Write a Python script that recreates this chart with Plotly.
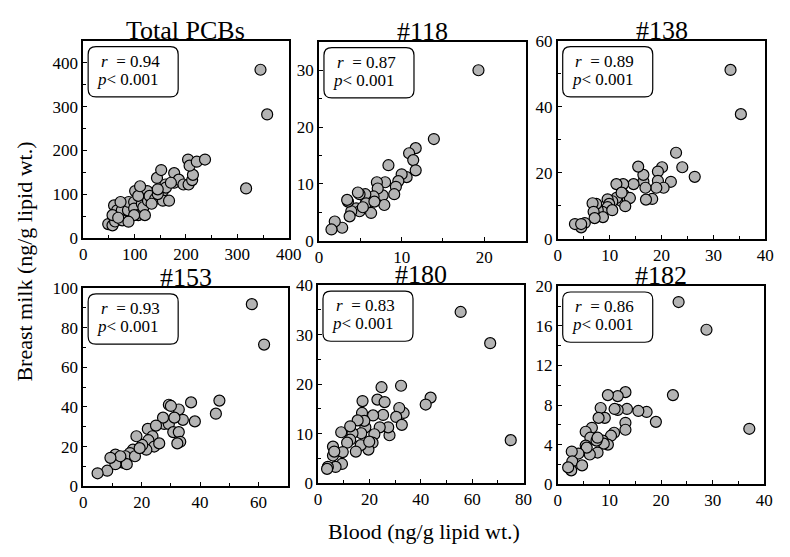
import plotly.graph_objects as go

# ---------------- data ----------------
titles = ["Total PCBs", "#118", "#138", "#153", "#180", "#182"]
r_vals = ["0.94", "0.87", "0.89", "0.93", "0.83", "0.86"]
p_text = "0.001"

tot_x = [48.6, 56.9, 62, 60, 66, 76, 75, 87, 88.5, 99, 99, 101, 107, 114, 117, 124.5, 126, 129, 140,
         143.5, 151.7, 160, 155, 155, 167, 145, 161, 177, 177, 186, 195, 205, 212, 213.5, 204, 207, 221,
         237, 76, 72.6, 107, 133, 120, 99, 88, 110.6, 57, 68, 145, 170.6, 345, 358, 317]
tot_y = [31.6, 28.7, 37.5, 74.3, 63, 52, 63, 63, 82, 82, 67, 107, 52, 78, 70, 107, 85, 96, 89,
         137, 155, 122, 107, 85, 85, 100, 115, 148, 126, 133, 122, 122, 132, 144, 179, 165, 174,
         179, 40, 82, 96, 78, 52, 52, 37, 118, 52, 46, 111, 126, 384, 282, 113]

c118_x = [19.3, 13.9, 11.7, 10.9, 11.4, 11.7, 10.6, 10.0, 9.6, 9.3, 9.1, 8.4, 8.0, 7.7, 7.9, 7.0, 7.1,
          6.6, 5.7, 5.6, 4.9, 5.7, 6.3, 4.5, 4.9, 3.9, 3.5, 3.4, 3.7, 5.3, 6.7, 2.8, 1.9, 1.5, 4.7]
c118_y = [30.0, 17.9, 16.3, 15.4, 14.2, 12.4, 11.2, 11.7, 10.5, 9.5, 8.2, 13.3, 10.3, 8.0, 6.3, 10.3, 9.2,
          7.8, 6.9, 8.2, 8.2, 6.6, 4.9, 5.7, 5.2, 5.2, 6.9, 7.2, 4.3, 5.9, 6.9, 2.3, 3.4, 2.0, 8.5]

c138_x = [33.3, 35.3, 22.8, 24.0, 26.4, 21.8, 20.1, 19.3, 19.3, 20.4, 19.0, 18.2, 17.0, 16.5, 16.9, 16.5,
          15.5, 14.6, 12.6, 11.3, 12.7, 13.0, 12.3, 13.5, 13.9, 13.0, 11.3, 10.5, 9.6, 9.9, 9.6, 8.6, 7.7,
          8.7, 7.4, 6.7, 6.9, 7.1, 5.2, 4.5, 3.3, 4.5, 10.5, 12.3]
c138_y = [51.2, 37.8, 26.1, 21.7, 18.8, 17.3, 21.7, 20.4, 17.6, 15.5, 15.5, 12.1, 11.9, 17.4, 15.5, 19.4,
          21.9, 16.6, 16.6, 16.6, 13.4, 11.4, 11.4, 12.0, 12.4, 9.9, 12.4, 11.4, 12.0, 10.6, 9.6, 8.2, 8.7,
          6.6, 10.6, 10.8, 8.2, 6.3, 4.8, 3.5, 4.5, 4.5, 8.7, 14.0]

c153_x = [57.7, 61.9, 46.6, 45.4, 36.9, 38.2, 34.1, 32.7, 29.3, 30.0, 27.7, 29.3, 30.8, 32.7, 33.2, 32.2,
          22.1, 23.7, 22.3, 24.3, 21.6, 20.2, 18.2, 17.0, 16.0, 14.4, 11.0, 11.6, 13.6, 14.9, 11.0, 8.2,
          4.9, 17.7, 19.3, 27.3, 31.2, 24.9, 26.0, 12.7, 9.3]
c153_y = [91.9, 71.5, 43.2, 36.6, 42.3, 32.7, 33.5, 38.7, 41.1, 40.5, 31.4, 31.4, 27.3, 27.3, 22.4, 21.6,
          28.9, 25.2, 23.2, 20.0, 18.4, 20.8, 25.2, 18.4, 16.7, 15.1, 15.9, 13.5, 11.9, 11.1, 11.1, 7.8,
          6.5, 15.1, 19.2, 34.6, 34.6, 30.6, 21.6, 15.1, 14.3]

c180_x = [55.5, 67.0, 75.0, 43.8, 41.9, 32.3, 33.3, 31.6, 30.4, 32.6, 27.8, 27.3, 24.7, 23.1, 25.9, 25.3,
          24.0, 21.4, 21.9, 21.2, 19.6, 17.3, 17.1, 18.4, 18.0, 15.4, 16.8, 16.6, 14.7, 13.4, 12.5, 11.3,
          9.0, 9.6, 9.3, 6.8, 5.8, 5.8, 6.3, 3.8, 3.5, 12.5, 19.9]
c180_y = [34.6, 28.3, 8.7, 17.3, 15.9, 19.7, 14.2, 15.2, 13.4, 11.8, 9.7, 11.3, 19.4, 16.9, 16.4, 13.8,
          11.3, 13.7, 9.9, 8.2, 6.8, 16.6, 14.2, 11.3, 12.6, 12.7, 10.1, 7.7, 6.4, 10.1, 8.8, 8.2,
          10.3, 6.3, 3.9, 3.3, 7.4, 5.6, 6.4, 3.3, 2.9, 11.5, 8.4]

c182_x = [23.4, 28.8, 37.1, 22.3, 19.0, 17.2, 15.6, 13.4, 13.1, 11.6, 9.7, 11.6, 11.0, 13.1, 13.1, 10.9,
          10.3, 8.7, 9.7, 8.9, 7.7, 8.3, 9.1, 7.9, 6.6, 5.4, 6.3, 7.5, 5.4, 6.2, 5.6, 4.0, 2.7, 2.8,
          4.7, 2.6, 2.0, 7.7]
c182_y = [18.4, 15.6, 5.6, 9.0, 6.3, 7.3, 7.4, 7.6, 9.3, 8.9, 9.0, 7.5, 7.6, 6.2, 5.5, 5.2,
          4.9, 4.4, 4.0, 4.1, 3.2, 7.7, 6.7, 6.7, 5.7, 5.3, 4.7, 4.4, 3.9, 3.0, 3.7, 3.1, 3.3, 2.3,
          1.9, 1.4, 1.7, 4.7]

xs = [tot_x, c118_x, c138_x, c153_x, c180_x, c182_x]
ys = [tot_y, c118_y, c138_y, c153_y, c180_y, c182_y]

x_ranges = [[0, 400], [0, 25], [0, 40], [0, 70], [0, 80], [0, 40]]
y_ranges = [[0, 450], [0, 35], [0, 60], [0, 100], [0, 40], [0, 20]]
x_dtick = [100, 10, 10, 20, 20, 10]
y_dtick = [100, 10, 20, 20, 10, 4]

# ---------------- layout in pixels ----------------
W, H = 790, 557
# (left, right, top, bottom) pixels of each plot area
boxes_px = [(81, 291, 33, 237), (322, 533, 34, 240), (566, 778, 33, 238),
            (81, 290, 289, 494), (321, 531, 286, 491), (566, 777, 287, 492)]

SERIF = "Liberation Serif"

fig = go.Figure()
layout = dict(width=W, height=H, margin=dict(l=0, r=0, t=0, b=0),
              paper_bgcolor="white", plot_bgcolor="white", showlegend=False,
              font=dict(family=SERIF, color="black", size=16))
annotations = []
shapes = []


def px2paper(px, py):
    return px / W, 1 - py / H


def P(px, py):
    X, Y = px2paper(px, py)
    return f"{X:.5f},{Y:.5f}"


for i in range(6):
    n = "" if i == 0 else str(i + 1)
    l, r, t, b = boxes_px[i]
    fig.add_trace(go.Scatter(
        x=xs[i], y=ys[i], mode="markers", xaxis="x" + n, yaxis="y" + n,
        marker=dict(size=11, color="#b4b4b4", line=dict(color="black", width=1.2)),
        hoverinfo="skip"))
    common = dict(showline=True, linecolor="black", linewidth=1.6, mirror=True,
                  ticks="inside", ticklen=4, tickwidth=1.2, tickcolor="black",
                  showgrid=False, zeroline=False, fixedrange=True,
                  tickfont=dict(family=SERIF, size=17, color="black"))
    layout["xaxis" + n] = dict(common, domain=[l / W, r / W], range=x_ranges[i],
                               dtick=x_dtick[i], tick0=0, anchor="y" + n,
                               minor=dict(ticks="inside", ticklen=3, tickcolor="black",
                                          dtick=x_dtick[i] / 2, tickwidth=1))
    layout["yaxis" + n] = dict(common, domain=[1 - b / H, 1 - t / H], range=y_ranges[i],
                               dtick=y_dtick[i], tick0=0, anchor="x" + n,
                               minor=dict(ticks="inside", ticklen=3, tickcolor="black",
                                          dtick=y_dtick[i] / 2, tickwidth=1))
    # title
    annotations.append(dict(text=titles[i], xref="paper", yref="paper",
                            x=(l + r) / 2 / W, y=1 - t / H, xanchor="center", yanchor="bottom",
                            yshift=-6, showarrow=False,
                            font=dict(family=SERIF, size=26, color="black")))
    # rounded stat box
    bx0, by0 = l + 5, t + 6
    bx1, by1 = bx0 + 92, by0 + 52
    rad = 8
    path = (f"M {P(bx0 + rad, by0)} L {P(bx1 - rad, by0)} Q {P(bx1, by0)} {P(bx1, by0 + rad)} "
            f"L {P(bx1, by1 - rad)} Q {P(bx1, by1)} {P(bx1 - rad, by1)} "
            f"L {P(bx0 + rad, by1)} Q {P(bx0, by1)} {P(bx0, by1 - rad)} "
            f"L {P(bx0, by0 + rad)} Q {P(bx0, by0)} {P(bx0 + rad, by0)} Z")
    shapes.append(dict(type="path", path=path, xref="paper", yref="paper",
                       line=dict(color="black", width=1.2), fillcolor="white", layer="above"))
    rx, ry = px2paper(bx0 + 11, by0 + 15)
    annotations.append(dict(text="<i>r</i>&nbsp; = " + r_vals[i], xref="paper", yref="paper",
                            x=rx, y=ry, xanchor="left", yanchor="middle", showarrow=False,
                            font=dict(family=SERIF, size=17, color="black")))
    qx, qy = px2paper(bx0 + 7, by0 + 34)
    annotations.append(dict(text="<i>p</i>< " + p_text, xref="paper", yref="paper",
                            x=qx, y=qy, xanchor="left", yanchor="middle", showarrow=False,
                            font=dict(family=SERIF, size=17, color="black")))

# axis titles
ax_, ay_ = px2paper(21, 262)
annotations.append(dict(text="Breast milk (ng/g lipid wt.)", xref="paper", yref="paper",
                        x=ax_, y=ay_, textangle=-90, showarrow=False,
                        xanchor="center", yanchor="middle",
                        font=dict(family=SERIF, size=22, color="black")))
bx_, by_ = px2paper(429, 541)
annotations.append(dict(text="Blood (ng/g lipid wt.)", xref="paper", yref="paper",
                        x=bx_, y=by_, showarrow=False, xanchor="center", yanchor="middle",
                        font=dict(family=SERIF, size=22, color="black")))

layout["annotations"] = annotations
layout["shapes"] = shapes
fig.update_layout(**layout)
fig.write_html("out.html", config={"displayModeBar": False},
               post_script="document.body.style.margin='0';document.body.style.overflow='hidden';")
